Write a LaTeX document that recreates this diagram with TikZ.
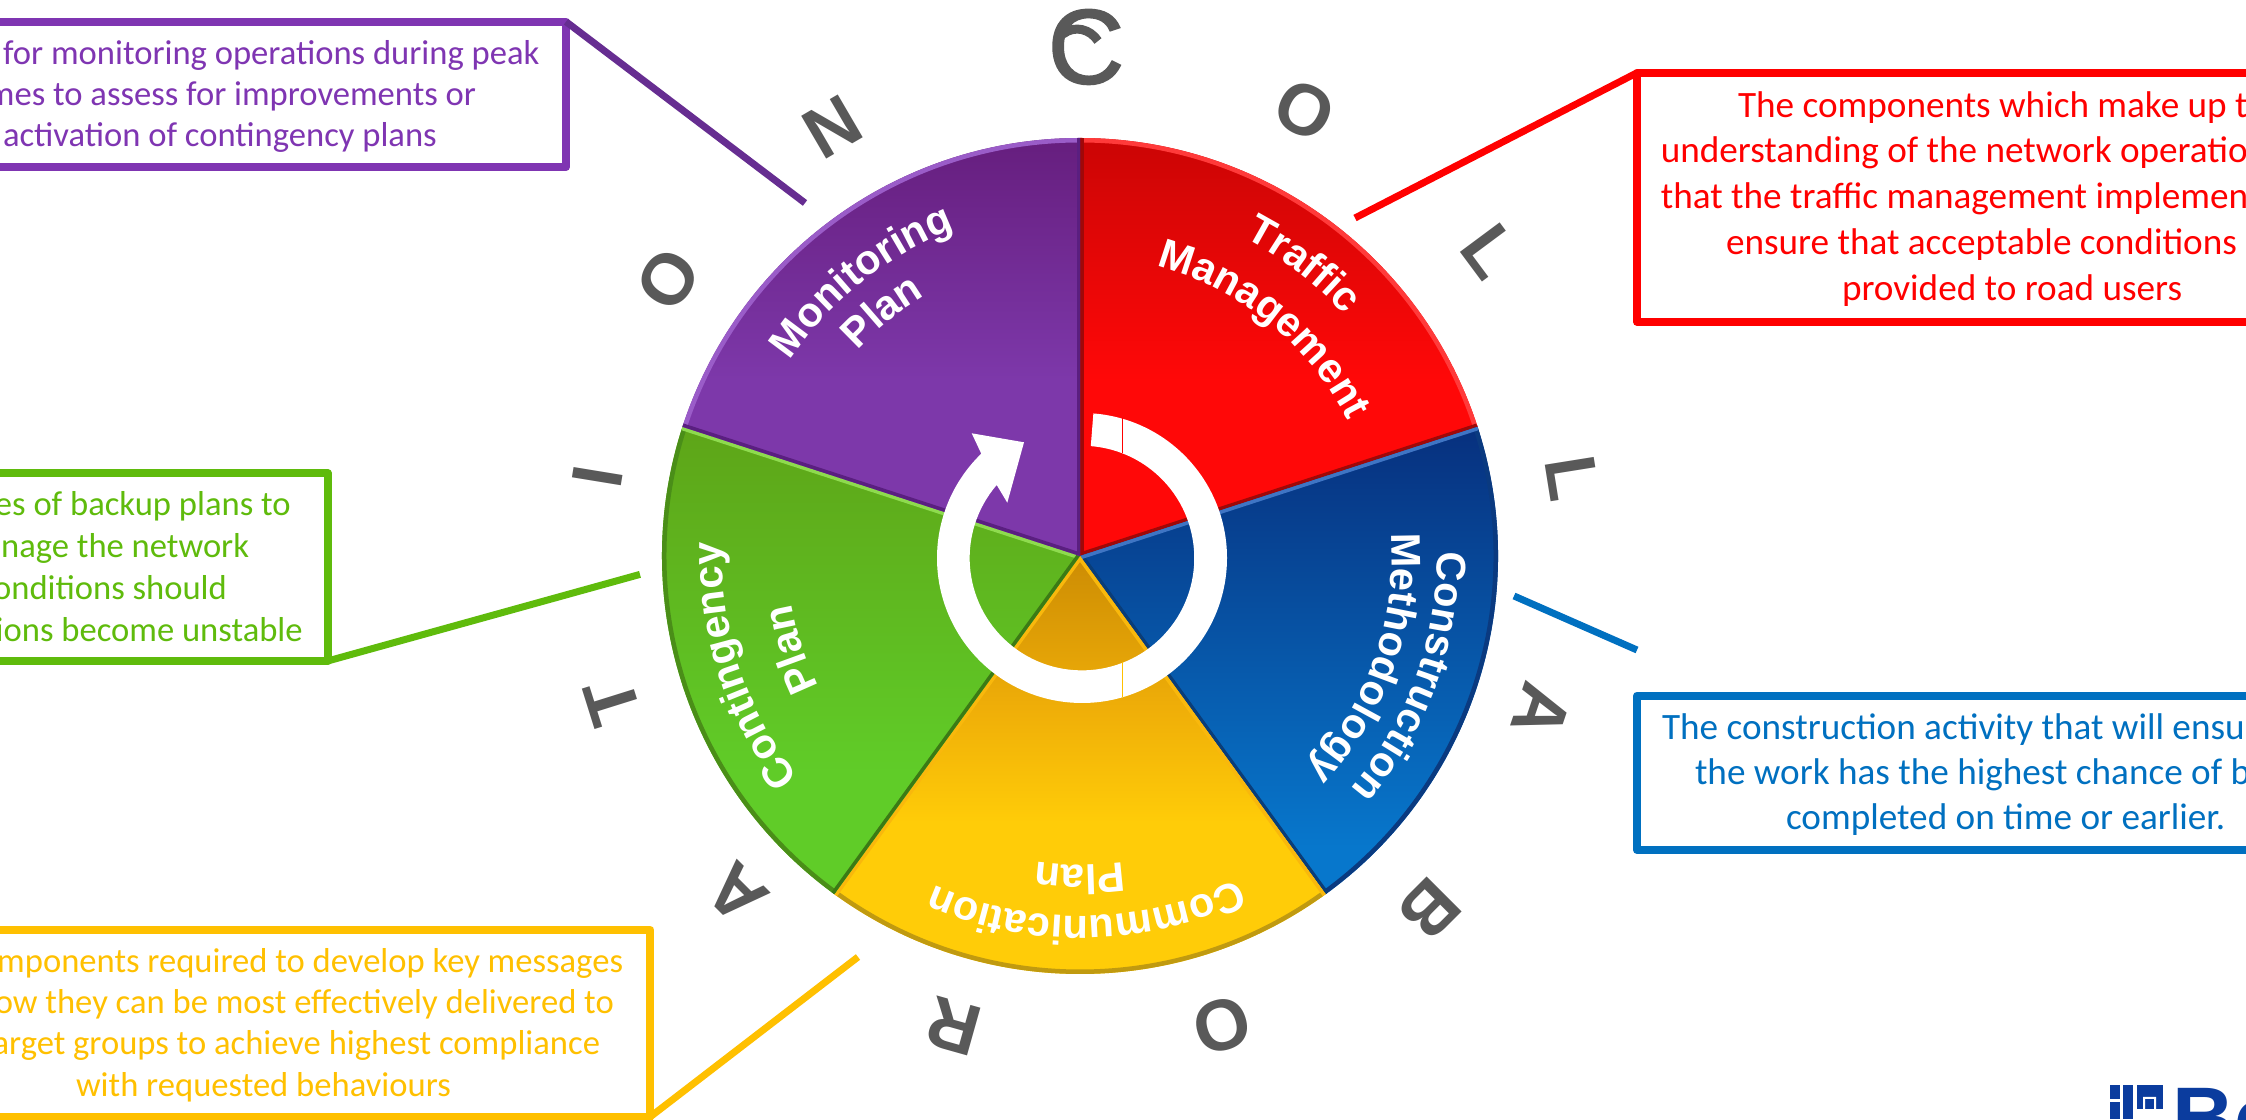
\documentclass[tikz,border=0pt]{standalone}
\usepackage{fontspec}
\usetikzlibrary{decorations.text,calc}
\setmainfont{Carlito}
\newfontfamily\arialb{Liberation Sans}[BoldFont={Liberation Sans Bold}]
\newfontfamily\arialfb{Liberation Sans}[FakeBold=1.6]
\definecolor{cpurple}{HTML}{7F35B2}
\definecolor{clpurple}{HTML}{662D91}
\definecolor{cgreen}{HTML}{5FBB0C}
\definecolor{cblue}{HTML}{0070C0}
\definecolor{cyellow}{HTML}{FFC000}
\definecolor{cgrey}{HTML}{595959}
\definecolor{logob}{HTML}{0B3C9E}
\definecolor{ra}{HTML}{FF0808}\definecolor{rb}{HTML}{CB0505}
\definecolor{pa}{HTML}{7D38AA}\definecolor{pb}{HTML}{661E7E}
\definecolor{ba}{HTML}{0777CC}\definecolor{bb}{HTML}{07307E}
\definecolor{ga}{HTML}{60CC28}\definecolor{gb}{HTML}{5EA518}
\definecolor{ya}{HTML}{FFCC08}\definecolor{yb}{HTML}{EFAE08}\definecolor{yc}{HTML}{CC8C04}
\definecolor{redrim}{HTML}{FF3A3A}\definecolor{reddk}{HTML}{A00808}
\definecolor{blrim}{HTML}{0A3A80}\definecolor{bllt}{HTML}{3F75C4}\definecolor{bldk}{HTML}{0A3D78}
\definecolor{yerim}{HTML}{C09A10}\definecolor{yeside}{HTML}{F9B80C}
\definecolor{grrim}{HTML}{4A8E18}\definecolor{grlt}{HTML}{8EDB4E}\definecolor{grdk}{HTML}{3B7A15}
\definecolor{purim}{HTML}{9A5CC8}\definecolor{pudk}{HTML}{5A1F80}
\pgfdeclareverticalshading{shred}{100bp}{color(0bp)=(ra); color(46bp)=(ra); color(75bp)=(rb); color(100bp)=(rb)}
\pgfdeclareverticalshading{shpur}{100bp}{color(0bp)=(pa); color(46bp)=(pa); color(75bp)=(pb); color(100bp)=(pb)}
\pgfdeclareverticalshading{shblu}{100bp}{color(0bp)=(ba); color(30bp)=(ba); color(75bp)=(bb); color(100bp)=(bb)}
\pgfdeclareverticalshading{shgre}{100bp}{color(0bp)=(ga); color(38bp)=(ga); color(75bp)=(gb); color(100bp)=(gb)}
\pgfdeclareverticalshading{shyel}{100bp}{color(0bp)=(ya); color(45bp)=(ya); color(58bp)=(yb); color(75bp)=(yc); color(100bp)=(yc)}
\newcommand{\wheelsector}[6]{% start,end,shading,outer,edgeA(start side),edgeB(end side)
  \shade[shading=#3] (wc) -- ++(#1:418) arc[start angle=#1,end angle=#2,radius=418] -- cycle;
  \begin{scope}
    \clip (wc) -- ++(#1:418) arc[start angle=#1,end angle=#2,radius=418] -- cycle;
    \draw[line width=9pt,color=#4] (wc) ++(#1:418) arc[start angle=#1,end angle=#2,radius=418];
    \draw[line width=7pt,color=#5] (wc) -- ++(#1:418);
    \draw[line width=7pt,color=#6] (wc) -- ++(#2:418);
  \end{scope}}
\newcommand{\wheeltext}[4]{% centre angle, half span, baseline radius, text
  \path[decorate,decoration={text along path,text align=center,
    text={|\arialb\bfseries\fontsize{41.5}{44}\selectfont\color{white}|#4}}]
    (wc) ++(#1+#2:#3) arc[start angle=#1+#2,end angle=#1-#2,radius=#3];}
\tikzset{
  calloutbox/.style={draw=#1,line width=8pt,line join=round,fill=white},
  leader/.style={draw=#1,line width=7pt},
  ltxt/.style={font=\fontsize{34.6}{36}\selectfont,text=#1,inner sep=0pt,outer sep=0pt},
  ltxtb/.style={font=\fontsize{37.2}{38}\selectfont,text=#1,inner sep=0pt,outer sep=0pt},
  outerletter/.style={font=\arialb\bfseries\fontsize{72}{72}\selectfont,text=cgrey,inner sep=0pt}
}
\begin{document}
\begin{tikzpicture}[x=1pt,y=1pt]
\useasboundingbox (0,0) rectangle (2246,1119);
\fill[white] (0,0) rectangle (2246,1119);
\coordinate (wc) at (1080,563);
% wheel
\wheelsector{18}{90}{shred}{redrim}{reddk}{reddk}
\wheelsector{-54}{18}{shblu}{blrim}{bldk}{bllt}
\wheelsector{-126}{-54}{shyel}{yerim}{yeside}{yeside}
\wheelsector{162}{234}{shgre}{grrim}{grlt}{grdk}
\wheelsector{90}{162}{shpur}{purim}{pudk}{pudk}
% sector texts
\wheeltext{52.5}{24}{358}{Traffic}
\wheeltext{51}{32}{300}{Management}
\wheeltext{-20}{28}{357}{Construction}
\wheeltext{-19.5}{28}{312}{Methodology}
\wheeltext{-89}{35}{360}{Communication}
\wheeltext{-90}{12}{309}{Plan}
\wheeltext{198}{32}{358}{Contingency}
\wheeltext{198}{14}{292}{Plan}
\wheeltext{128.5}{28}{350}{Monitoring}
\wheeltext{129}{16}{303}{Plan}
% ring arrow
\coordinate (rc) at (1082,561);
\fill[white] (rc) ++(85.5:145) arc[start angle=85.5,end angle=-226,radius=145]
  -- (971.7,685.7) -- (1024,676.7) -- (1007.3,616.3) -- (996.7,634)
  arc[start angle=-220.6,end angle=85.5,radius=112.3] -- cycle;
\draw[line width=1pt,color=red] (1122.3,701) -- (1122.3,666.3);
\draw[line width=1pt,color=cyellow] (1122.3,457.3) -- (1122.3,422.3);
% letters
\node[font=\arialfb\fontsize{106}{106}\selectfont,text=cgrey,inner sep=0pt] (L0) at (1086,1072) {C};
\coordinate (hkA) at (1063,1085); \coordinate (hkB) at (1098,1078);
\draw[cgrey,line width=9pt] (hkA) .. controls (1075,1094) and (1090,1090) .. (hkB);
\foreach \ch/\px/\py/\ang [count=\i] in {O/1305/110/27.2,L/1490/251/53.4,L/1572/478/80.9,A/1542/711/108.6,B/1430/909/135,O/1222/1025/163,R/954/1026/195.7,A/737/894/225,T/612/702/252.6,I/598/477/279.3,O/668/279.5/303.6,N/832/127/329.7}{
  \node[outerletter,rotate=-\ang] (L\i) at ({\px},{1119-\py}) {\ch};
}
% callout boxes
\coordinate (pA) at (-20,952); \coordinate (pB) at (566,1097.3);
\draw[calloutbox=cpurple] (pA) rectangle (pB);
\coordinate (rA) at (1637,797.2); \coordinate (rB) at (2280,1046.2);
\draw[calloutbox=red] (rA) rectangle (rB);
\coordinate (gA) at (-20,458); \coordinate (gB) at (327.7,645.7);
\draw[calloutbox=cgreen] (gA) rectangle (gB);
\coordinate (bA) at (1637,269); \coordinate (bB) at (2280,423.3);
\draw[calloutbox=cblue] (bA) rectangle (bB);
\coordinate (yA) at (-20,2.3); \coordinate (yB) at (650.4,189);
\draw[calloutbox=cyellow] (yA) rectangle (yB);
% leaders
\coordinate (pE) at (805,916); \draw[leader=clpurple] (pB) -- (pE);
\coordinate (rE) at (1355,901); \draw[leader=red] (rA |- rB) -- (rE);
\coordinate (gE) at (640,544.6); \draw[leader=cgreen] (gA -| gB) -- (gE);
\coordinate (bS) at (1514,523); \coordinate (bE) at (1637,469); \draw[leader=cblue] (bS) -- (bE);
\coordinate (yE) at (858,162); \draw[leader=cyellow] (yA -| yB) -- (yE);
% texts
\node[ltxt=cpurple,anchor=base east] (p1) at (539.5,1054) {for monitoring operations during peak};
\node[ltxt=cpurple,anchor=base east] (p2) at (476,1013) {mes to assess for improvements or};
\node[ltxt=cpurple,anchor=base west] (p3) at (3,972) {activation of contingency plans};
\node[ltxtb=red,anchor=base west] (r1) at (1738,1001) {The components which make up t};
\node[ltxtb=red,anchor=base west] (r2) at (1660.8,956) {understanding of the network operatio};
\node[ltxtb=red,anchor=base west] (r3) at (1660.8,910.4) {that the traffic management implemen};
\node[ltxtb=red,anchor=base west] (r4) at (1726,864) {ensure that acceptable conditions};
\node[ltxtb=red,anchor=base west] (r5) at (1842,818.5) {provided to road users};
\node[ltxt=cgreen,anchor=base east] (g1) at (290.7,603) {es of backup plans to};
\node[ltxt=cgreen,anchor=base east] (g2) at (249,561.3) {nage the network};
\node[ltxt=cgreen,anchor=base east] (g3) at (227,519) {onditions should};
\node[ltxt=cgreen,anchor=base east] (g4) at (302.7,477.3) {ions become unstable};
\node[ltxtb=cblue,anchor=base west] (b1) at (1662,379) {The construction activity that will ensu};
\node[ltxtb=cblue,anchor=base west] (b2) at (1695,334) {the work has the highest chance of b};
\node[ltxtb=cblue,anchor=base west] (b3) at (1786,289) {completed on time or earlier.};
\node[ltxt=cyellow,anchor=base east] (y1) at (623,146.3) {mponents required to develop key messages};
\node[ltxt=cyellow,anchor=base east] (y2) at (613.7,105) {ow they can be most effectively delivered to};
\node[ltxt=cyellow,anchor=base east] (y3) at (600,64) {arget groups to achieve highest compliance};
\node[ltxt=cyellow,anchor=base west] (y4) at (76,22.3) {with requested behaviours};
% logo
\begin{scope}
  \clip (0,0) rectangle (2246,1119);
  \fill[logob] (2110,34) rectangle (2120,20);
  \fill[logob] (2110,17) rectangle (2120,0);
  \fill[logob] (2123,34) rectangle (2133,0);
  \fill[logob] (2137,34) rectangle (2163,10);
  \fill[white] (2143,22) rectangle (2156,20) (2143,22) rectangle (2145,0) (2154,22) rectangle (2156,10);
  \node[font=\arialb\bfseries\fontsize{86}{86}\selectfont,text=logob,anchor=base west,inner sep=0pt] (logo) at (2172,-28) {Be};
\end{scope}
\end{tikzpicture}
\end{document}
